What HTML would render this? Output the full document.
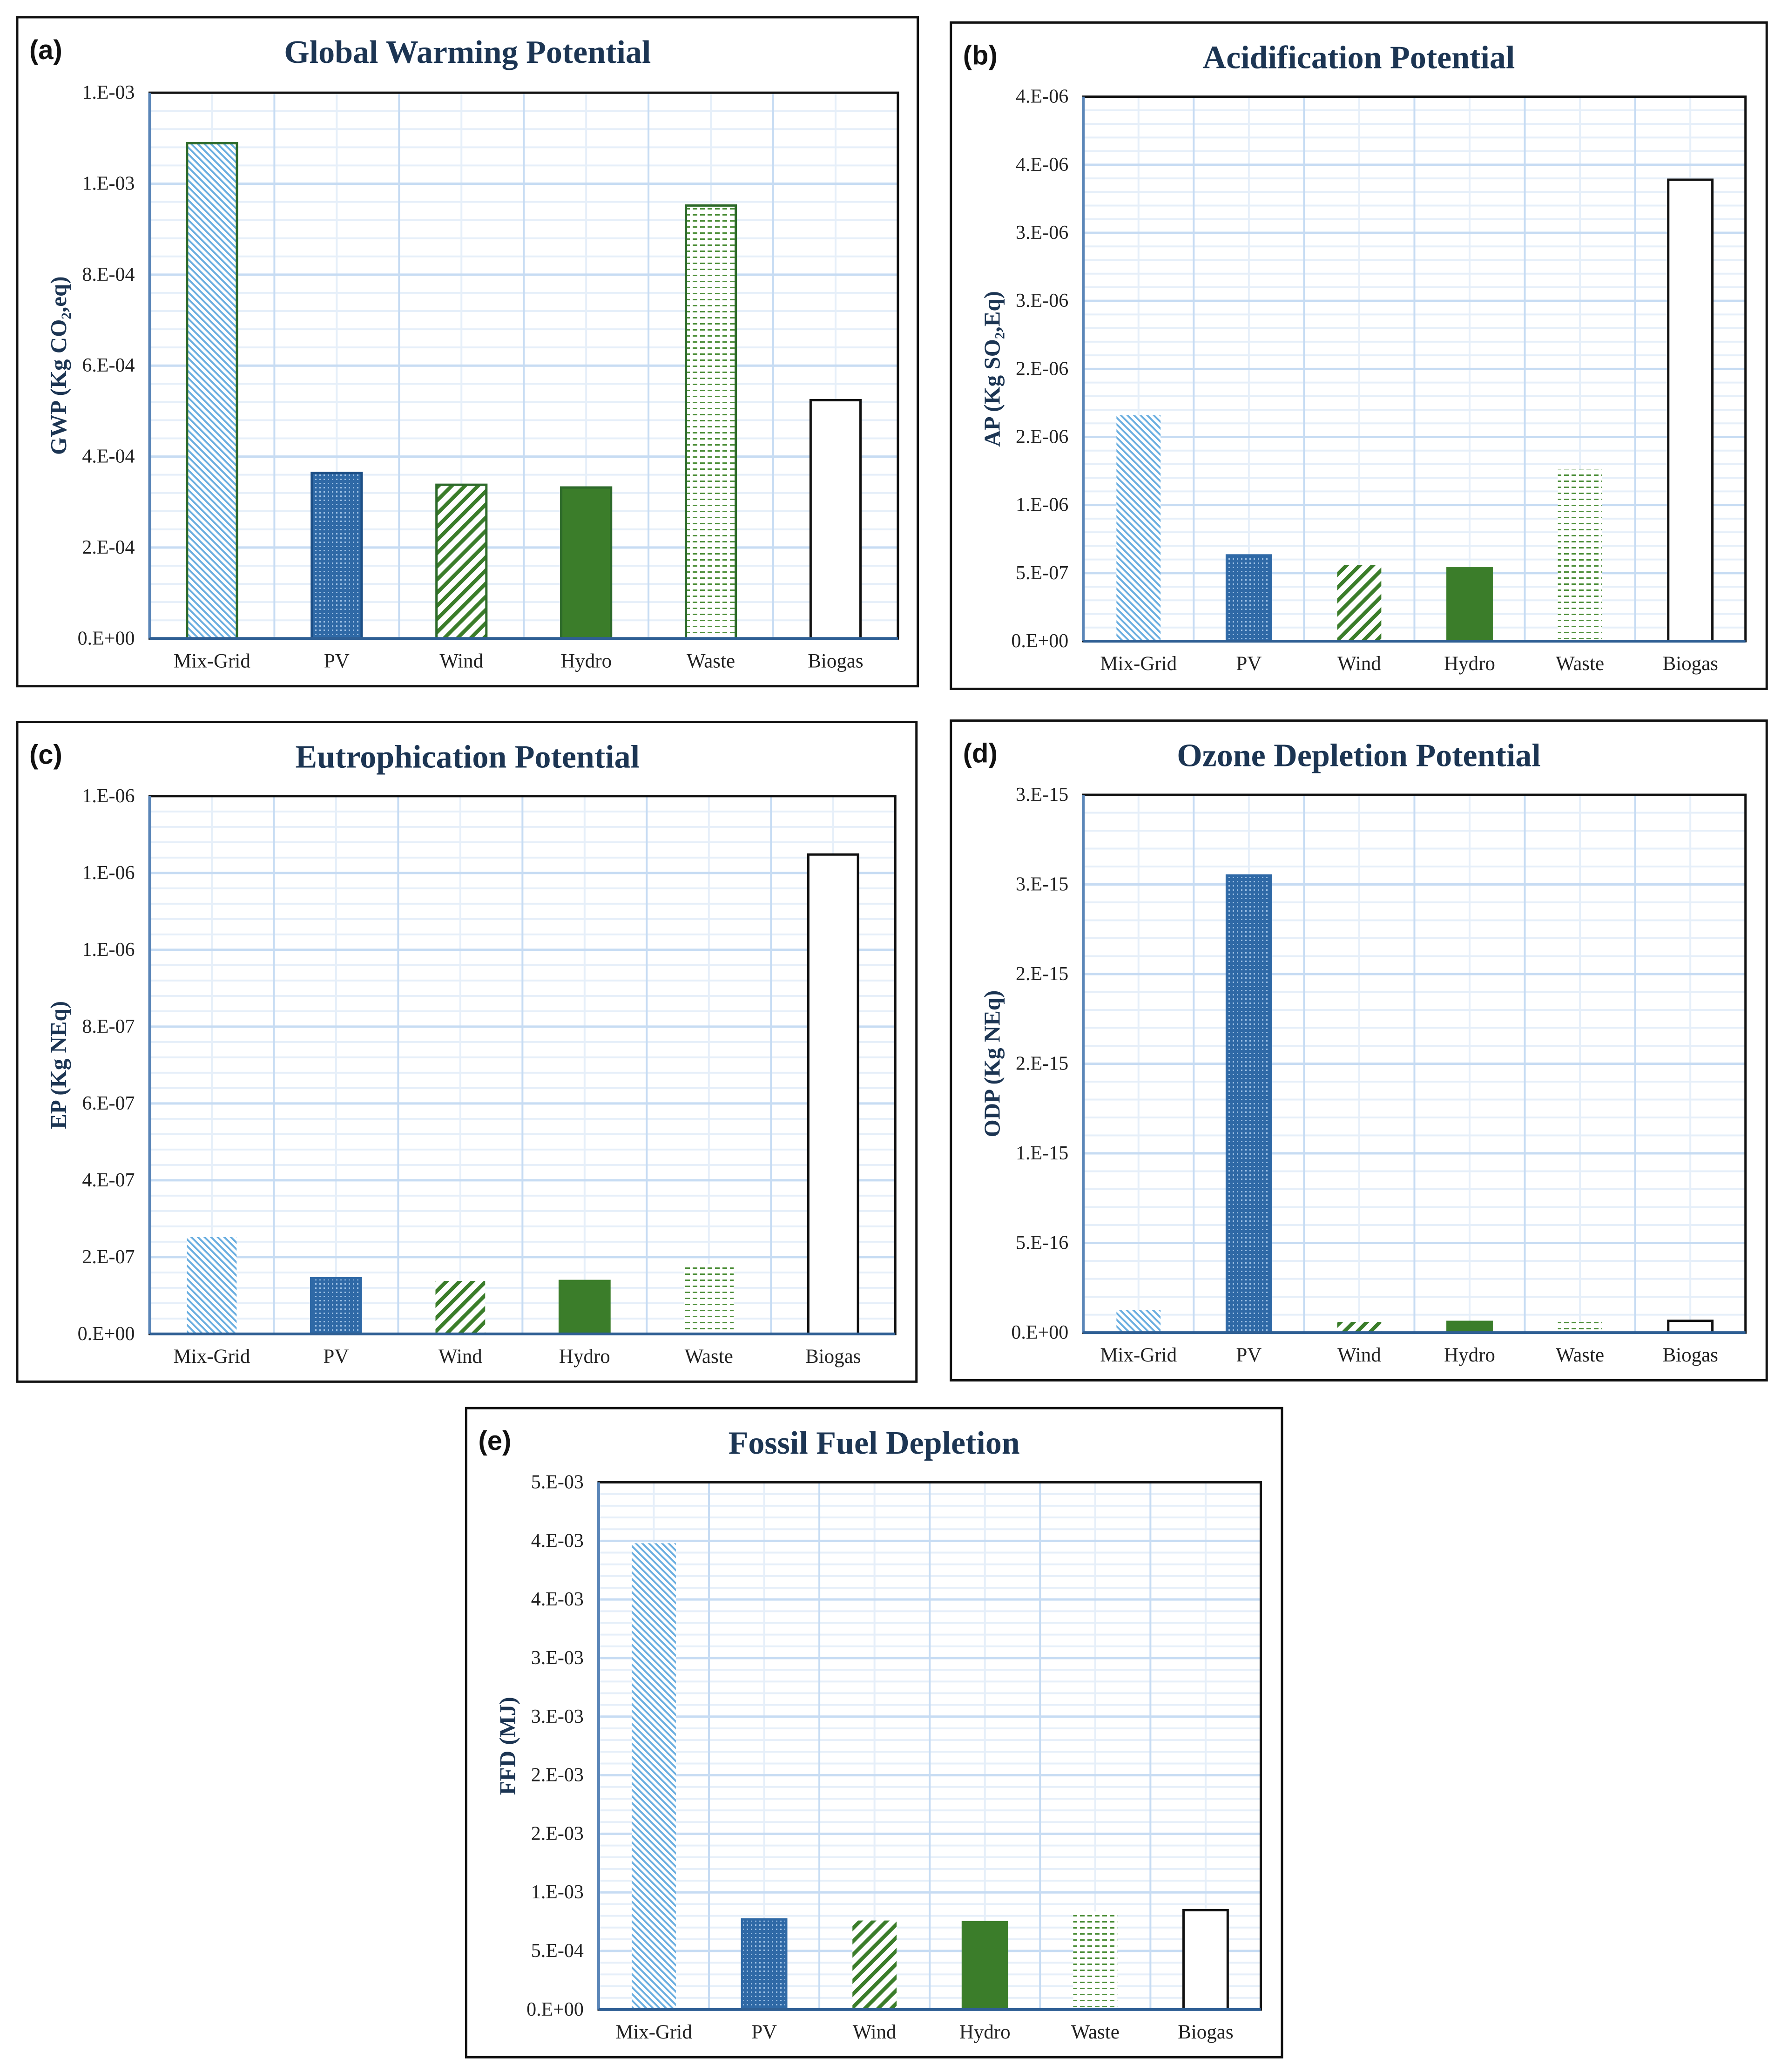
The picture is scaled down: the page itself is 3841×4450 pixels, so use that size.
<!DOCTYPE html>
<html><head><meta charset="utf-8"><style>
html,body{margin:0;padding:0;background:#fff;width:3841px;height:4450px;overflow:hidden}
svg text{font-family:"Liberation Serif",serif}
</style></head><body>
<svg id="root" xmlns="http://www.w3.org/2000/svg" width="3841" height="4450" viewBox="0 0 3841 4450">
<defs>
<pattern id="p-mix" patternUnits="userSpaceOnUse" width="10" height="10" patternTransform="rotate(-45)"><rect width="10" height="10" fill="#fff"/><rect x="0" y="0" width="4" height="10" fill="#6aaee0"/></pattern>
<pattern id="p-pv" patternUnits="userSpaceOnUse" width="9" height="9"><rect width="9" height="9" fill="#2f69a6"/><rect x="2" y="2" width="3" height="3" fill="#9dc0e4"/></pattern>
<pattern id="p-wind" patternUnits="userSpaceOnUse" width="20" height="20" patternTransform="rotate(45)"><rect width="20" height="20" fill="#fff"/><rect x="0" y="0" width="8" height="20" fill="#3b7d2a"/></pattern>
<pattern id="p-waste" patternUnits="userSpaceOnUse" width="16" height="13"><rect width="16" height="13" fill="#fff"/><rect x="0" y="5" width="10" height="3" fill="#4e8f3a"/></pattern>
</defs>
<g id="charts"></g>
</svg>
<script>
const S = 2.845;
const categories = ["Mix-Grid","PV","Wind","Hydro","Waste","Biogas"];
const gwpValues = [1.089e-3, 3.64e-4, 3.38e-4, 3.32e-4, 9.52e-4, 5.24e-4];
const apValues = [1.66e-6, 6.3e-7, 5.6e-7, 5.35e-7, 1.26e-6, 3.39e-6];
const epValues = [2.52e-7, 1.45e-7, 1.38e-7, 1.38e-7, 1.83e-7, 1.248e-6];
const odpValues = [1.26e-16, 2.55e-15, 6e-17, 6e-17, 6e-17, 6.6e-17];
const ffdValues = [3.98e-3, 7.69e-4, 7.6e-4, 7.46e-4, 8.37e-4, 8.48e-4];
const gwpTicks = ["0.E+00","2.E-04","4.E-04","6.E-04","8.E-04","1.E-03","1.E-03"];
const apTicks = ["0.E+00","5.E-07","1.E-06","2.E-06","2.E-06","3.E-06","3.E-06","4.E-06","4.E-06"];
const epTicks = ["0.E+00","2.E-07","4.E-07","6.E-07","8.E-07","1.E-06","1.E-06","1.E-06"];
const odpTicks = ["0.E+00","5.E-16","1.E-15","2.E-15","2.E-15","3.E-15","3.E-15"];
const ffdTicks = ["0.E+00","5.E-04","1.E-03","2.E-03","2.E-03","3.E-03","3.E-03","4.E-03","4.E-03","5.E-03"];
const gwpStep = 2e-4, apStep = 5e-7, epStep = 2e-7, odpStep = 5e-16, ffdStep = 5e-4;

const NS = "http://www.w3.org/2000/svg";
const root = document.getElementById("charts");
function mk(tag, attrs, parent){const e=document.createElementNS(NS,tag);for(const k in attrs)e.setAttribute(k,attrs[k]);(parent||root).appendChild(e);return e;}

const fills = ["url(#p-mix)","url(#p-pv)","url(#p-wind)","#3b7d2a","url(#p-waste)","#fff"];

const panels = [
 {id:"gwp",letter:"(a)",title:"Global Warming Potential",tx:353,yt:"GWP (Kg CO\u2082,eq)",box:[13,13,693,518],plot:[113,70,678,482],vals:gwpValues,ticks:gwpTicks,step:gwpStep,outline:["#2d6a2a","#1d4f86","#2d6a2a","#2d6a2a","#2d6a2a","#111"]},
 {id:"ap",letter:"(b)",title:"Acidification Potential",tx:1026,yt:"AP (Kg SO\u2082,Eq)",box:[718,17,1334,520],plot:[818,73,1318,484],vals:apValues,ticks:apTicks,step:apStep,outline:["none","#2f69a6","none","#3b7d2a","none","#111"]},
 {id:"ep",letter:"(c)",title:"Eutrophication Potential",tx:353,yt:"EP (Kg NEq)",box:[13,545,692,1043],plot:[113,601,676,1007],vals:epValues,ticks:epTicks,step:epStep,outline:["none","#2f69a6","none","#3b7d2a","none","#111"]},
 {id:"odp",letter:"(d)",title:"Ozone Depletion Potential",tx:1026,yt:"ODP (Kg NEq)",box:[718,544,1334,1042],plot:[818,600,1318,1006],vals:odpValues,ticks:odpTicks,step:odpStep,outline:["none","#2f69a6","none","#3b7d2a","none","#111"]},
 {id:"ffd",letter:"(e)",title:"Fossil Fuel Depletion",tx:660,yt:"FFD (MJ)",box:[352,1063,968,1553],plot:[452,1119,952,1517],vals:ffdValues,ticks:ffdTicks,step:ffdStep,outline:["none","#2f69a6","none","#3b7d2a","none","#111"]}
];

panels.forEach(p=>{
  const g = mk("g",{});
  
  
  const [bx0,by0,bx1,by1]=p.box.map(v=>v*S);
  const box = mk("rect",{x:bx0,y:by0,width:bx1-bx0,height:by1-by0,fill:"#fff",stroke:"#111","stroke-width":5},g);
  
  
  const [x0,y0,x1,y1]=p.plot.map(v=>v*S);
  const W=x1-x0,H=y1-y0;
  const maxV = p.step*(p.ticks.length-1);
  const yScale = v => y1 - v/maxV*H;
  const n = categories.length, cw = W/n;
  const xScale = i => x0 + cw*(i+0.5);
  const nMinor = (p.ticks.length-1)*5;
  for(let k=1;k<nMinor;k++){ if(k%5===0) continue;
    const y=yScale(p.step*k/5);
    const l=mk("line",{x1:x0,x2:x1,y1:y,y2:y,stroke:"#e6eff9","stroke-width":4},g);
     
  }
  for(let i=0;i<n;i++){
    const xc=xScale(i);
    const l=mk("line",{x1:xc,x2:xc,y1:y0,y2:y1,stroke:"#e6eff9","stroke-width":4},g);
     
    if(i>0){const xb=x0+cw*i;
      const l2=mk("line",{x1:xb,x2:xb,y1:y0,y2:y1,stroke:"#c7dcf3","stroke-width":4},g);
       }
  }
  p.ticks.forEach((t,k)=>{
    const y=yScale(p.step*k);
    if(k>0 && k<p.ticks.length-1){
      const l=mk("line",{x1:x0,x2:x1,y1:y,y2:y,stroke:"#c7dcf3","stroke-width":5},g);
       
    }
    const tx=mk("text",{x:x0-32,y:y+13,"text-anchor":"end","font-size":42,fill:"#222"},g);
    tx.textContent=t;
     
  });
  p.vals.forEach((v,i)=>{
    const bw=cw*0.4, xc=xScale(i), yt=yScale(v);
    const r=mk("rect",{x:xc-bw/2,y:yt,width:bw,height:y1-yt,fill:fills[i],stroke:p.outline[i],"stroke-width":5},g);
    
    
    const lb=mk("text",{x:xc,y:y1+62,"text-anchor":"middle","font-size":43,fill:"#222"},g);
    lb.textContent=categories[i];
     
  });
  const fr=mk("rect",{x:x0,y:y0,width:W,height:H,fill:"none",stroke:"#111","stroke-width":5},g);
   
  const la=mk("line",{x1:x0,x2:x0,y1:y0,y2:y1,stroke:"#5b86b8","stroke-width":6},g);
   
  const ba=mk("line",{x1:x0,x2:x1,y1:y1,y2:y1,stroke:"#2f5f94","stroke-width":6},g);
   
  const ti=mk("text",{x:p.tx*S,y:by0+98,"text-anchor":"middle","font-size":70,"font-weight":"bold",fill:"#1c3553"},g);
  ti.textContent=p.title;
   
  const le=mk("text",{x:bx0+26,y:by0+90,"font-size":58,"font-weight":"bold",fill:"#111"},g);
  le.style.fontFamily='"Liberation Sans",sans-serif';
  le.textContent=p.letter;
   
  const ytx=bx0+105, yty=(y0+y1)/2;
  const yl=mk("text",{x:ytx,y:yty,"text-anchor":"middle","font-size":49,"font-weight":"bold",fill:"#1c3553",transform:`rotate(-90 ${ytx} ${yty})`},g);
  yl.textContent=p.yt;
   
});
</script>
</body></html>
